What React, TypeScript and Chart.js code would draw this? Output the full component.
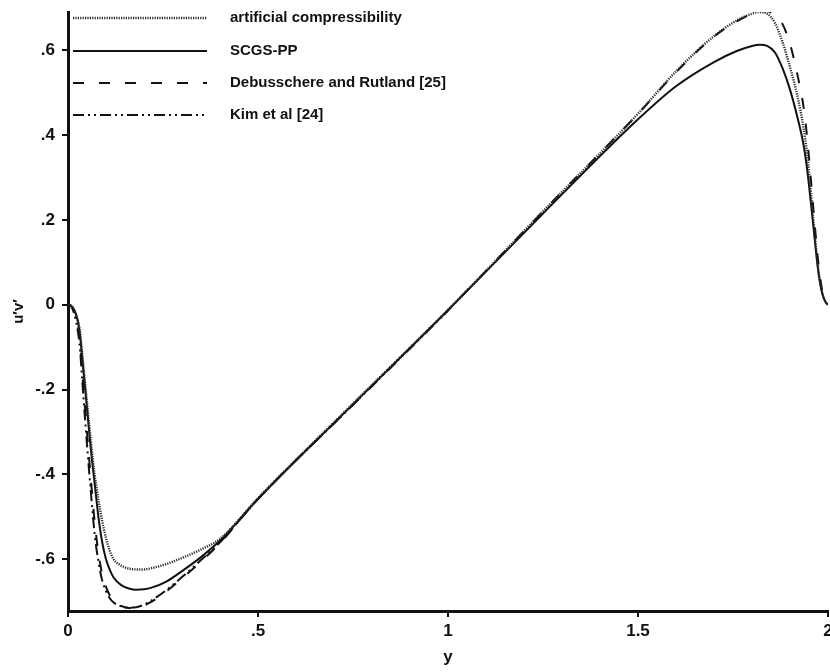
import { useEffect, useRef } from 'react';
import { Chart, registerables } from 'chart.js';

Chart.register(...registerables);

// wall-normal coordinate y (shared grid)
const yGrid = [
  0, 0.01, 0.02, 0.03, 0.04, 0.05, 0.06, 0.07, 0.08, 0.09,
  0.10, 0.11, 0.12, 0.14, 0.16, 0.18, 0.20, 0.22, 0.26, 0.30,
  0.35, 0.40, 0.50, 0.75, 1.00, 1.25, 1.50, 1.60, 1.70, 1.76,
  1.80, 1.82, 1.84, 1.86, 1.88, 1.90, 1.92, 1.935, 1.945, 1.955,
  1.965, 1.975, 1.985, 1.993, 2.00,
];

// artificial compressibility (dotted)
const acValues = [
  0, -0.004, -0.02, -0.055, -0.14, -0.23, -0.32, -0.40, -0.46, -0.51,
  -0.55, -0.58, -0.60, -0.615, -0.622, -0.624, -0.624, -0.621, -0.611, -0.597,
  -0.577, -0.552, -0.456, -0.233, -0.012, 0.22, 0.45, 0.55, 0.633, 0.67,
  0.686, 0.69, 0.686, 0.665, 0.62, 0.56, 0.49, 0.42, 0.355, 0.265,
  0.165, 0.08, 0.028, 0.008, 0,
];

// SCGS-PP (solid)
const scgsValues = [
  0, -0.004, -0.02, -0.06, -0.15, -0.245, -0.34, -0.42, -0.50, -0.56,
  -0.60, -0.625, -0.643, -0.661, -0.669, -0.672, -0.671, -0.667, -0.652, -0.628,
  -0.595, -0.556, -0.458, -0.235, -0.013, 0.215, 0.437, 0.515, 0.572, 0.598,
  0.61, 0.613, 0.61, 0.595, 0.558, 0.507, 0.44, 0.38, 0.32, 0.24,
  0.155, 0.075, 0.026, 0.007, 0,
];

// Debusschere and Rutland (dashed)
const debValues = [
  0, -0.005, -0.03, -0.08, -0.19, -0.30, -0.41, -0.51, -0.585, -0.635,
  -0.665, -0.685, -0.698, -0.710, -0.715, -0.715, -0.709, -0.700, -0.675, -0.645,
  -0.605, -0.562, -0.458, -0.236, -0.013, 0.22, 0.45, 0.548, 0.632, 0.668,
  0.686, 0.692, 0.692, 0.682, 0.662, 0.615, 0.54, 0.47, 0.395, 0.295,
  0.19, 0.095, 0.032, 0.009, 0,
];

// Kim et al (dash-dot-dot), half channel only
const kimValues = [
  0, -0.006, -0.035, -0.09, -0.21, -0.33, -0.44, -0.54, -0.605, -0.65,
  -0.675, -0.692, -0.702, -0.711, -0.714, -0.713, -0.707, -0.697, -0.672, -0.642,
  -0.602, -0.56, -0.458, -0.236, -0.014,
];

const seriesNames = [
  'artificial compressibility',
  'SCGS-PP',
  'Debusschere and Rutland [25]',
  'Kim et al [24]',
];

const xTickValues = [0, 0.5, 1, 1.5, 2];
const xTickLabels = ['0', '.5', '1', '1.5', '2'];
const yTickValues = [-0.6, -0.4, -0.2, 0, 0.2, 0.4, 0.6];
const yTickLabels = ['-.6', '-.4', '-.2', '0', '.2', '.4', '.6'];
const xTitle = 'y';
const yTitle = 'u\u2032v\u2032';

const FONT = '"Liberation Sans", Arial, Helvetica, sans-serif';

const toPoints = (vals: number[]) => vals.map((v, i) => ({ x: yGrid[i], y: v }));

const legendPlugin = {
  id: 'insideLegend',
  afterDraw(chart: any) {
    const ctx = chart.ctx;
    const area = chart.chartArea;
    const rows = [18, 51, 83, 115];
    chart.data.datasets.forEach((ds: any, i: number) => {
      const yy = rows[i];
      ctx.save();
      ctx.strokeStyle = ds.borderColor;
      ctx.lineWidth = ds.borderWidth;
      ctx.lineCap = 'butt';
      ctx.setLineDash(ds.borderDash || []);
      ctx.beginPath();
      ctx.moveTo(area.left + 5, yy);
      ctx.lineTo(area.left + 139, yy);
      ctx.stroke();
      ctx.setLineDash([]);
      ctx.fillStyle = '#111';
      ctx.font = `bold 15px ${FONT}`;
      ctx.textBaseline = 'middle';
      ctx.textAlign = 'left';
      ctx.fillText(ds.label, area.left + 162, yy);
      ctx.restore();
    });
  },
};

export default function App() {
  const ref = useRef<HTMLCanvasElement | null>(null);

  useEffect(() => {
    if (!ref.current) return;
    const common = {
      pointRadius: 0,
      fill: false,
      cubicInterpolationMode: 'monotone' as const,
      borderCapStyle: 'butt' as const,
    };
    const chart = new Chart(ref.current, {
      type: 'line',
      data: {
        datasets: [
          { ...common, label: seriesNames[0], data: toPoints(acValues), borderColor: '#2a2a2a', borderWidth: 2.4, borderDash: [1.2, 1.2] },
          { ...common, label: seriesNames[1], data: toPoints(scgsValues), borderColor: '#111', borderWidth: 2 },
          { ...common, label: seriesNames[2], data: toPoints(debValues), borderColor: '#111', borderWidth: 2, borderDash: [11, 15] },
          { ...common, label: seriesNames[3], data: toPoints(kimValues), borderColor: '#111', borderWidth: 2, borderDash: [11, 4, 2, 4, 2, 4] },
        ],
      },
      options: {
        responsive: false,
        animation: false,
        devicePixelRatio: 1,
        layout: { padding: { top: 12, right: 2, left: 0, bottom: 0 } },
        plugins: {
          legend: { display: false },
          tooltip: { enabled: false },
        },
        scales: {
          x: {
            type: 'linear',
            min: 0,
            max: 2,
            afterBuildTicks: (scale: any) => {
              scale.ticks = xTickValues.map((v) => ({ value: v }));
            },
            afterFit: (scale: any) => {
              scale.height = 61;
              scale.paddingLeft = 0;
              scale.paddingRight = 0;
            },
            ticks: {
              autoSkip: false,
              maxRotation: 0,
              padding: 4,
              color: '#111',
              font: { family: FONT, size: 17, weight: 'bold' },
              callback: (v: any) => {
                const i = xTickValues.findIndex((t) => Math.abs(t - Number(v)) < 1e-9);
                return i >= 0 ? xTickLabels[i] : '';
              },
            },
            grid: { display: true, drawOnChartArea: false, drawTicks: true, tickLength: 6, color: '#111', lineWidth: 2 },
            border: { display: true, color: '#111', width: 3 },
            title: { display: true, text: xTitle, color: '#111', font: { family: FONT, size: 17, weight: 'bold' }, padding: { top: 4, bottom: 4 } },
          },
          y: {
            type: 'linear',
            min: -0.722,
            max: 0.69,
            afterBuildTicks: (scale: any) => {
              scale.ticks = yTickValues.map((v) => ({ value: v }));
            },
            afterFit: (scale: any) => {
              scale.width = 68;
              scale.paddingTop = 0;
              scale.paddingBottom = 0;
            },
            ticks: {
              autoSkip: false,
              padding: 7,
              color: '#111',
              font: { family: FONT, size: 17, weight: 'bold' },
              callback: (v: any) => {
                const i = yTickValues.findIndex((t) => Math.abs(t - Number(v)) < 1e-9);
                return i >= 0 ? yTickLabels[i] : '';
              },
            },
            grid: { display: true, drawOnChartArea: false, drawTicks: true, tickLength: 6, color: '#111', lineWidth: 2 },
            border: { display: true, color: '#111', width: 3 },
            title: { display: true, text: yTitle, color: '#111', font: { family: FONT, size: 15, weight: 'bold' }, padding: { top: 10, bottom: 0 } },
          },
        },
      },
      plugins: [legendPlugin],
    });
    return () => chart.destroy();
  }, []);

  return (
    <div style={{ position: 'absolute', left: 0, top: 0, width: 830, height: 672, background: '#fff' }}>
      <canvas ref={ref} width={830} height={672} style={{ display: 'block' }} />
    </div>
  );
}
